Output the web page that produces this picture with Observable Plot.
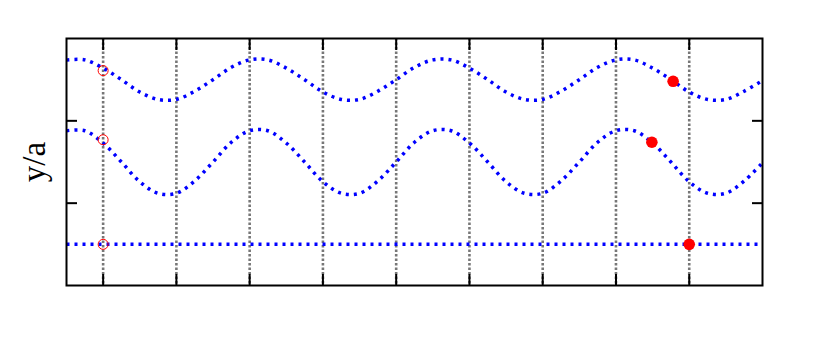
<!DOCTYPE html>
<html>
<head>
<meta charset="utf-8">
<script src="https://cdn.jsdelivr.net/npm/d3@7"></script>
<script src="https://cdn.jsdelivr.net/npm/@observablehq/plot@0.6"></script>
<style>
  html, body { margin: 0; padding: 0; background: #fff; }
  #chart { width: 817px; height: 350px; }
</style>
</head>
<body>
<div id="chart"></div>
<script>
// sample positions along x
const xs = [-0.5, -0.25, 0, 0.25, 0.5, 0.75, 1, 1.25, 1.5, 1.75,
            2, 2.25, 2.5, 2.75, 3, 3.25, 3.5, 3.75, 4, 4.25,
            4.5, 4.75, 5, 5.25, 5.5, 5.75, 6, 6.25, 6.5, 6.75,
            7, 7.25, 7.5, 7.75, 8, 8.25, 8.5, 8.75, 9];
// upper wave
const topWave = [2.74, 2.74, 2.64, 2.50, 2.35, 2.26, 2.26, 2.36, 2.50, 2.65,
                 2.74, 2.74, 2.64, 2.50, 2.35, 2.26, 2.26, 2.36, 2.50, 2.65,
                 2.74, 2.74, 2.64, 2.50, 2.35, 2.26, 2.26, 2.36, 2.50, 2.65,
                 2.74, 2.74, 2.64, 2.50, 2.35, 2.26, 2.26, 2.36, 2.49];
// middle wave
const midWave = [1.88, 1.88, 1.73, 1.50, 1.26, 1.12, 1.12, 1.27, 1.50, 1.74,
                 1.88, 1.88, 1.73, 1.50, 1.26, 1.12, 1.12, 1.27, 1.50, 1.74,
                 1.88, 1.88, 1.73, 1.50, 1.26, 1.12, 1.12, 1.27, 1.50, 1.74,
                 1.88, 1.88, 1.73, 1.50, 1.26, 1.12, 1.12, 1.27, 1.49];
// flat bottom line
const flatX = [-0.5, 9];
const flatY = [0.5, 0.5];
// initial positions (open circles)
const openX = [0, 0, 0];
const openY = [2.61, 1.77, 0.5];
// final positions (filled dots)
const dotX = [7.78, 7.49, 8.0];
const dotY = [2.48, 1.74, 0.5];
// ticks
const xTicks = [0, 1, 2, 3, 4, 5, 6, 7, 8];
const yTicks = [1, 2];

const topData = xs.map((x, i) => ({x, y: topWave[i]}));
const midData = xs.map((x, i) => ({x, y: midWave[i]}));
const flatData = flatX.map((x, i) => ({x, y: flatY[i]}));
const openData = openX.map((x, i) => ({x, y: openY[i]}));
const dotData = dotX.map((x, i) => ({x, y: dotY[i]}));

const lineStyle = {x: "x", y: "y", curve: "catmull-rom", stroke: "#0000ff",
                   strokeWidth: 3.5, strokeDasharray: "3,5", strokeLinecap: "butt"};

const chart = Plot.plot({
  width: 817,
  height: 350,
  marginLeft: 66,
  marginRight: 55,
  marginTop: 38,
  marginBottom: 65,
  x: {domain: [-0.5, 9]},
  y: {domain: [0, 3]},
  style: {background: "#fff"},
  marks: [
    Plot.ruleX(xTicks, {stroke: "#777777", strokeWidth: 2.6, strokeDasharray: "2.5,2"}),
    Plot.line(topData, lineStyle),
    Plot.line(midData, lineStyle),
    Plot.line(flatData, {...lineStyle, curve: "linear"}),
    Plot.dot(openData, {x: "x", y: "y", r: 5, stroke: "#ff0000", strokeWidth: 1, fill: "none"}),
    Plot.dot(dotData, {x: "x", y: "y", r: 5.8, fill: "#ff0000", stroke: "none"}),
    Plot.axisX({anchor: "bottom", ticks: xTicks, tickSize: -11, tickFormat: () => "", label: null, strokeWidth: 2, stroke: "#000"}),
    Plot.axisX({anchor: "top", ticks: xTicks, tickSize: -11, tickFormat: () => "", label: null, strokeWidth: 2, stroke: "#000"}),
    Plot.axisY({anchor: "left", ticks: yTicks, tickSize: -11, tickFormat: () => "", label: "y/a",
                labelAnchor: "center", labelArrow: "none", labelOffset: 45,
                fontSize: 33, fontFamily: "Liberation Serif", strokeWidth: 2, stroke: "#000"}),
    Plot.axisY({anchor: "right", ticks: yTicks, tickSize: -11, tickFormat: () => "", label: null, strokeWidth: 2, stroke: "#000"}),
    Plot.frame({stroke: "#000", strokeWidth: 2})
  ]
});
document.getElementById("chart").appendChild(chart);
</script>
</body>
</html>
